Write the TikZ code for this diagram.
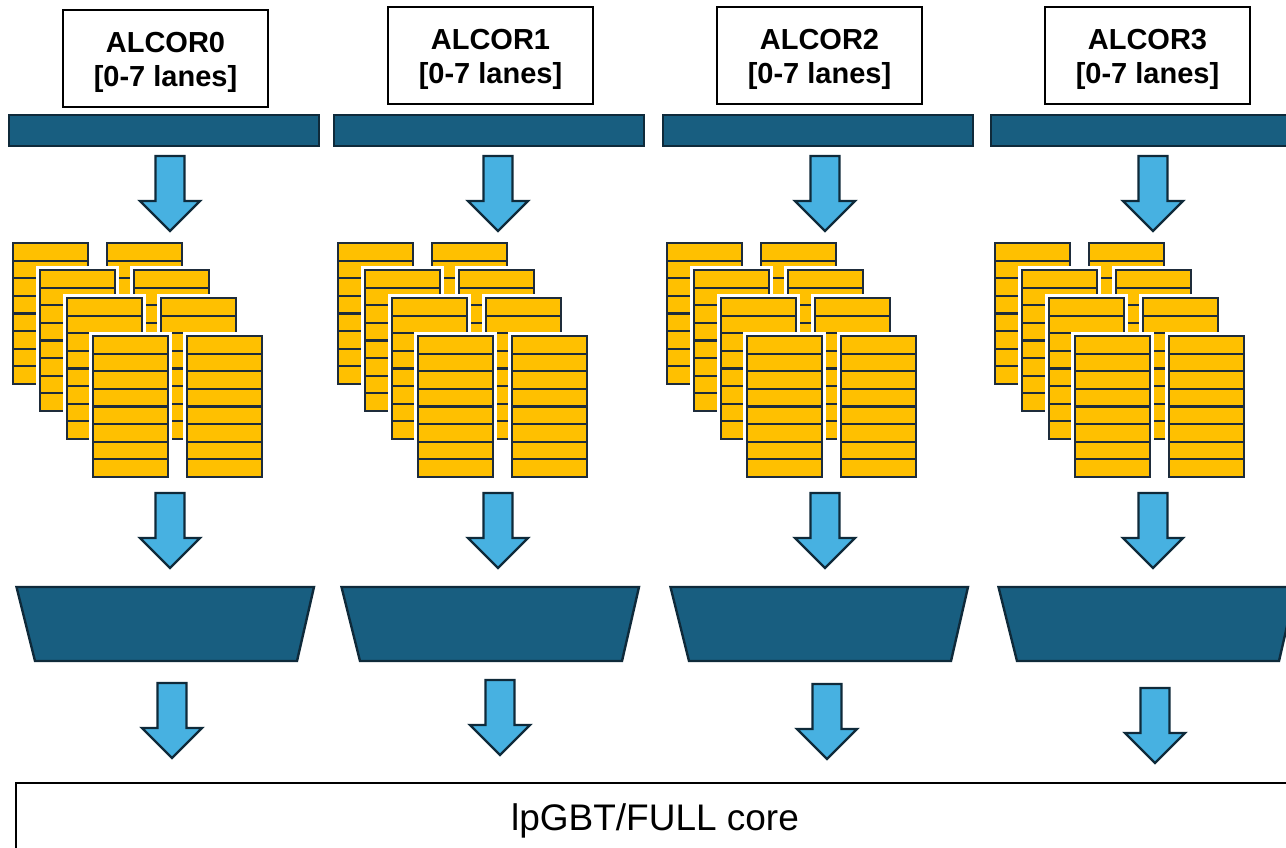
\documentclass[tikz,border=0pt]{standalone}
\usepackage{fontspec}
\setmainfont{Liberation Sans}
\definecolor{busblue}{HTML}{185E80}
\definecolor{edgedark}{HTML}{0F2A3A}
\definecolor{flowblue}{HTML}{47B1E1}
\definecolor{laneyellow}{HTML}{FFC000}
\definecolor{laneedge}{HTML}{1E2C3B}
\tikzset{
  pics/downarrow/.style={code={
    \draw[flow] (-14.5,0) -- (14.5,0) -- (14.5,45) -- (30,45) -- (0,75)
      -- (-30,45) -- (-14.5,45) -- cycle;
  }},
  pics/laneblock/.style={code={
    \fill[white] (-4,-4) rectangle (79,145);
    \draw[lane] (0,0) rectangle (75,141);
    \foreach \k in {1,...,7}
      \draw[laneline] (0,\k*17.625) -- (75,\k*17.625);
  }},
}
\begin{document}
\begin{tikzpicture}[x=1pt,y=-1pt,
  bus/.style={fill=busblue,draw=edgedark,line width=2.4pt,inner sep=0pt},
  mux/.style={fill=busblue,draw=edgedark,line width=2.4pt,line join=miter},
  flow/.style={fill=flowblue,draw=edgedark,line width=2.3pt,line join=miter},
  lane/.style={fill=laneyellow,draw=laneedge,line width=2.3pt},
  laneline/.style={draw=laneedge,line width=2.1pt},
  title/.style={draw=black,line width=1.3pt,fill=white,minimum width=205pt,
    minimum height=97pt,inner sep=0pt,align=center,
    font=\fontsize{29}{34}\selectfont\bfseries},
  core/.style={font=\fontsize{37}{44}\selectfont},
]
\useasboundingbox (0,0) rectangle (1286,848);
\clip (0,0) rectangle (1286,848);

% one column per ALCOR chip: x origin, title centre y, arrow x, last arrow y shift
\foreach \i/\x/\ty/\ax/\dy in {0/13/58.5/157/0, 1/338/55.5/160/-3,
                               2/667/55.5/158/1, 3/995/55.5/158/5} {
  \node[title] (alcor\i) at (\x+152.5,\ty) {};
  \node[font=\fontsize{29}{34}\selectfont\bfseries,align=center,inner sep=0pt]
    (alcortext\i) at (\x+152.5,\ty+4) {ALCOR\i\\{[0-7 lanes]}};
  \node[bus,minimum width=310pt,minimum height=31pt] (bus\i) at (\x+151,130.5) {};
  \pic at (\x+\ax,156) {downarrow};
  % stacked lane buffers, back to front
  \foreach \lx/\ly in {0/243, 27/270, 54/298, 80/336} {
    \pic at (\x+\lx,\ly) {laneblock};
    \pic at (\x+\lx+94,\ly) {laneblock};
  }
  \pic at (\x+\ax,493) {downarrow};
  \draw[mux] (\x+3.5,587) -- (\x+301,587) -- (\x+284,661) -- (\x+22,661) -- cycle;
  \pic at (\x+\ax+2,683+\dy) {downarrow};
}

\draw[line width=2.2pt] (16,783) rectangle (1330,900);
\node[core] (lpgbt) at (655,821) {lpGBT/FULL core};
\end{tikzpicture}
\end{document}
